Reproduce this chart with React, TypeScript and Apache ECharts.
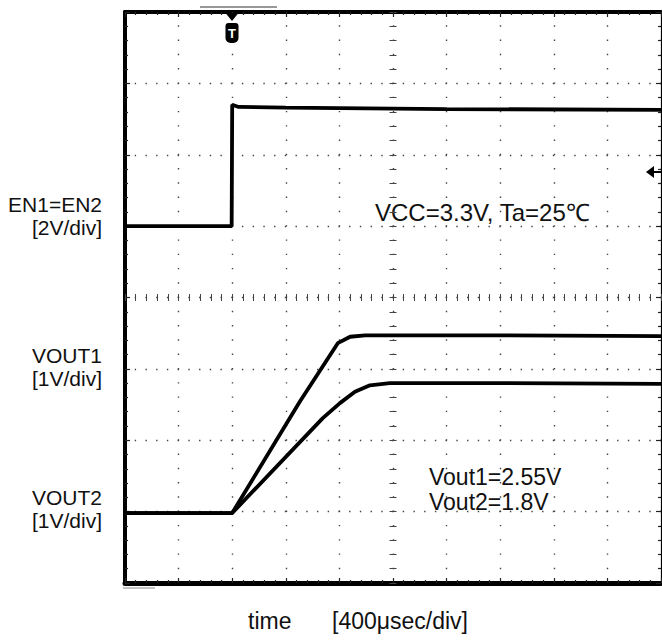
import React, { useEffect, useRef } from "react";
import * as echarts from "echarts";

// Axis ranges in oscilloscope divisions
const X_MIN = 0;
const X_MAX = 10;
const Y_MIN = 0;
const Y_MAX = 8;

// EN1=EN2 trace (time div, level div)
const enTime = [0, 1.99, 2.0, 2.12, 3.0, 6.0, 10.0];
const enLevel = [5.0, 5.0, 6.7, 6.67, 6.66, 6.64, 6.63];

// VOUT1 trace
const v1Time = [0, 2.0, 3.26, 3.97, 4.2, 4.48, 7.0, 10.0];
const v1Level = [0.98, 0.98, 2.54, 3.36, 3.45, 3.47, 3.47, 3.46];

// VOUT2 trace
const v2Time = [0, 2.0, 3.69, 4.01, 4.29, 4.57, 4.94, 7.0, 10.0];
const v2Level = [0.98, 0.98, 2.31, 2.52, 2.68, 2.77, 2.8, 2.8, 2.79];

// Labels
const channelLabels = [
  { lines: ["EN1=EN2", "[2V/div]"], y: 204 },
  { lines: ["VOUT1", "[1V/div]"], y: 355 },
  { lines: ["VOUT2", "[1V/div]"], y: 497 },
];
const condText = "VCC=3.3V, Ta=25\u2103";
const voutTexts = ["Vout1=2.55V", "Vout2=1.8V"];
const timeLabel = "time";
const timeScale = "[400\u03bcsec/div]";

const zip = (a: number[], b: number[]) => a.map((v, i) => [v, b[i]]);

const FONT = "Liberation Sans, Arial, sans-serif";

export default function App() {
  const ref = useRef<HTMLDivElement>(null);
  useEffect(() => {
    if (!ref.current) return;
    const chart = echarts.init(ref.current, undefined, { renderer: "svg" });
    const dotH = { color: "#444", width: 1.4, type: [1.4, 9.32] as number[], dashOffset: 0.7 };
    const dotV = { color: "#444", width: 1.4, type: [1.4, 12.875] as number[], dashOffset: 0.7 };
    const tickStyle = { color: "#222", width: 1.2 };
    const crossTick = { color: "#444", width: 1 };
    const baseAxis = (min: number, max: number, pos: string, width: number, extra: any = {}) => ({
      type: "value",
      min,
      max,
      interval: 1,
      position: pos,
      axisLine: { show: true, onZero: false, lineStyle: { color: "#000", width } },
      axisTick: { show: true, inside: true, length: 5, lineStyle: tickStyle },
      minorTick: { show: true, splitNumber: 5, length: 3, lineStyle: tickStyle },
      axisLabel: { show: false },
      splitLine: { show: false },
      ...extra,
    });

    const labelGraphics: any[] = [];
    channelLabels.forEach((l) => {
      l.lines.forEach((t, i) => {
        labelGraphics.push({
          type: "text",
          x: 102,
          y: l.y + i * 23,
          style: { text: t, fill: "#111", font: `21px ${FONT}`, align: "right", verticalAlign: "middle" },
        });
      });
    });

    chart.setOption({
      animation: false,
      backgroundColor: "#fff",
      grid: { left: 125, top: 12, width: 536, height: 571, show: false },
      xAxis: [
        baseAxis(X_MIN, X_MAX, "bottom", 5, { splitLine: { show: true, lineStyle: dotV } }),
        baseAxis(X_MIN, X_MAX, "top", 4),
        baseAxis(X_MIN, X_MAX, "bottom", 1, {
          offset: -282,
          axisLine: { show: false, onZero: false },
          axisTick: { show: true, inside: true, length: 7, lineStyle: crossTick },
          minorTick: { show: true, splitNumber: 5, length: 7, lineStyle: crossTick },
        }),
      ],
      yAxis: [
        baseAxis(Y_MIN, Y_MAX, "left", 4, { splitLine: { show: true, lineStyle: dotH } }),
        baseAxis(Y_MIN, Y_MAX, "right", 1.2),
        baseAxis(Y_MIN, Y_MAX, "left", 1, {
          offset: -264.5,
          axisLine: { show: false, onZero: false },
          axisTick: { show: true, inside: true, length: 7, lineStyle: crossTick },
          minorTick: { show: true, splitNumber: 5, length: 7, lineStyle: crossTick },
        }),
      ],
      series: [
        { name: "EN", data: zip(enTime, enLevel) },
        { name: "VOUT1", data: zip(v1Time, v1Level) },
        { name: "VOUT2", data: zip(v2Time, v2Level) },
      ].map((s) => ({
        ...s,
        type: "line",
        xAxisIndex: 0,
        yAxisIndex: 0,
        showSymbol: false,
        symbol: "none",
        lineStyle: { color: "#000", width: 3.8 },
        z: 5,
      })),
      graphic: [
        ...labelGraphics,
        {
          type: "text",
          x: 375,
          y: 212,
          style: { text: condText, fill: "#111", font: `24px ${FONT}`, verticalAlign: "middle" },
        },
        {
          type: "text",
          x: 429,
          y: 477,
          style: { text: voutTexts[0], fill: "#111", font: `23px ${FONT}`, verticalAlign: "middle" },
        },
        {
          type: "text",
          x: 429,
          y: 502,
          style: { text: voutTexts[1], fill: "#111", font: `23px ${FONT}`, verticalAlign: "middle" },
        },
        {
          type: "text",
          x: 248,
          y: 621,
          style: { text: timeLabel, fill: "#111", font: `23px ${FONT}`, verticalAlign: "middle" },
        },
        {
          type: "text",
          x: 332,
          y: 621,
          style: { text: timeScale, fill: "#111", font: `23px ${FONT}`, verticalAlign: "middle" },
        },
        // trigger marker
        {
          type: "polygon",
          shape: { points: [[225.5, 13], [238.5, 13], [232, 21]] },
          style: { fill: "#000" },
          z: 10,
        },
        {
          type: "rect",
          shape: { x: 225.5, y: 23, width: 13, height: 20, r: [3, 3, 5, 5] },
          style: { fill: "#000" },
          z: 10,
        },
        {
          type: "text",
          x: 232,
          y: 33,
          style: { text: "T", fill: "#fff", font: `bold 13px ${FONT}`, align: "center", verticalAlign: "middle" },
          z: 11,
        },
        // right-side level arrow
        {
          type: "polygon",
          shape: { points: [[646, 172], [654, 166], [654, 178]] },
          style: { fill: "#000" },
          z: 10,
        },
        {
          type: "line",
          shape: { x1: 653, y1: 172, x2: 661, y2: 172 },
          style: { stroke: "#000", lineWidth: 2 },
          z: 10,
        },
        // small marks above / below the frame
        {
          type: "line",
          shape: { x1: 200, y1: 7, x2: 277, y2: 7 },
          style: { stroke: "#333", lineWidth: 1 },
        },
        {
          type: "line",
          shape: { x1: 123, y1: 588, x2: 155, y2: 588 },
          style: { stroke: "#888", lineWidth: 1 },
        },
      ],
    });
    return () => chart.dispose();
  }, []);
  return (
    <div
      ref={ref}
      style={{ position: "absolute", left: 0, top: 0, width: 662, height: 640 }}
    />
  );
}
